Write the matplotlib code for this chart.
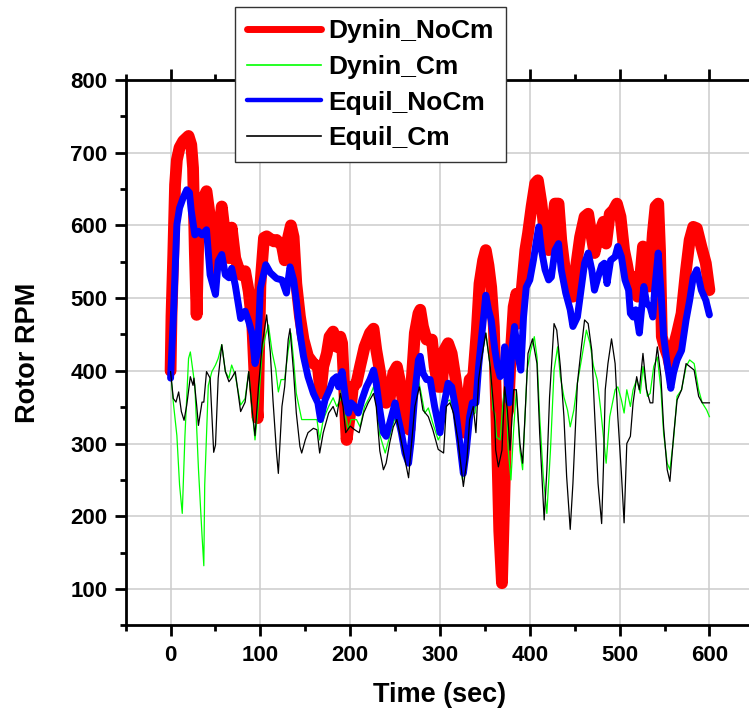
import numpy as np
import matplotlib
matplotlib.use("Agg")
import matplotlib.pyplot as plt
from matplotlib.ticker import MultipleLocator

plt.rcParams['font.family'] = ['Liberation Sans', 'DejaVu Sans']
plt.rcParams['font.weight'] = 'bold'

# Dynin_NoCm (red, thick)
t_dyn_nocm = [0, 1, 3, 5, 7, 10, 14, 20, 23, 25, 27, 29, 31, 35, 40, 44, 48, 51, 57, 61,
              65, 68, 72, 78, 83, 87, 91, 94, 97, 100, 104, 107, 115, 118, 124, 127, 131, 134, 137, 140,
              144, 148, 153, 159, 164, 167, 170, 174, 177, 181, 185, 189, 191, 194, 196, 200, 203, 207, 211, 216,
              222, 226, 229, 233, 237, 240, 244, 248, 252, 255, 259, 263, 266, 268, 272, 276, 278, 281, 285, 291,
              294, 298, 302, 305, 309, 313, 317, 320, 324, 327, 330, 333, 337, 341, 344, 348, 351, 354, 357, 360,
              363, 366, 369, 372, 374, 376, 379, 382, 385, 387, 391, 395, 398, 402, 406, 409, 413, 417, 421, 424,
              428, 432, 435, 439, 445, 448, 452, 456, 461, 465, 469, 472, 476, 482, 485, 489, 493, 497, 501, 505,
              508, 512, 516, 520, 523, 526, 529, 533, 537, 540, 543, 545, 547, 550, 554, 557, 560, 564, 569, 574,
              578, 582, 586, 591, 596, 600]
rpm_dyn_nocm = [400, 475, 560, 656, 690, 707, 716, 723, 711, 679, 564, 477, 587, 633, 647, 610, 537, 555, 626, 583,
                555, 597, 555, 532, 537, 509, 463, 380, 335, 518, 583, 585, 578, 580, 572, 552, 584, 600, 584, 520,
                475, 443, 420, 410, 406, 369, 406, 424, 447, 454, 433, 447, 438, 360, 305, 342, 378, 383, 406, 433,
                452, 458, 429, 400, 369, 356, 362, 397, 406, 388, 356, 323, 319, 378, 452, 479, 484, 461, 443, 443,
                406, 378, 378, 429, 438, 424, 392, 365, 342, 315, 351, 388, 392, 456, 520, 552, 566, 545, 515, 460,
                330, 180, 108, 245, 337, 346, 428, 488, 506, 465, 511, 566, 589, 626, 658, 662, 630, 584, 566, 589,
                630, 630, 580, 539, 502, 502, 548, 584, 612, 616, 584, 562, 584, 605, 575, 616, 621, 630, 612, 566,
                548, 520, 529, 502, 529, 571, 534, 516, 589, 626, 630, 566, 447, 433, 419, 401, 433, 452, 479, 539,
                580, 598, 596, 571, 548, 511]

# Dynin_Cm (green, thin)
t_dyn_cm = [0, 3, 7, 10, 13, 16, 20, 22, 25, 27, 31, 35, 37, 38, 42, 46, 50, 53, 57, 61,
            65, 68, 72, 78, 83, 87, 91, 94, 98, 102, 106, 109, 113, 117, 120, 123, 127, 131, 134, 137,
            140, 146, 153, 163, 166, 170, 176, 181, 185, 189, 191, 195, 198, 201, 207, 211, 216, 222, 226, 229,
            233, 239, 242, 248, 252, 255, 261, 265, 268, 272, 276, 279, 283, 287, 292, 298, 302, 305, 311, 315,
            320, 325, 329, 333, 339, 343, 346, 351, 356, 359, 361, 363, 367, 370, 373, 376, 379, 382, 385, 389,
            392, 395, 397, 401, 405, 408, 411, 415, 419, 423, 427, 431, 434, 438, 442, 445, 449, 453, 458, 463,
            467, 471, 475, 479, 485, 489, 495, 498, 502, 505, 508, 512, 515, 519, 523, 526, 531, 534, 538, 542,
            546, 549, 553, 556, 560, 564, 569, 574, 578, 583, 588, 592, 597, 600]
rpm_dyn_cm = [399, 357, 311, 243, 204, 311, 417, 426, 399, 380, 266, 174, 132, 243, 380, 399, 408, 417, 436, 399,
              390, 408, 394, 353, 362, 399, 344, 305, 357, 426, 450, 463, 426, 403, 371, 388, 388, 429, 452, 415,
              369, 333, 333, 333, 305, 333, 351, 363, 351, 360, 385, 337, 319, 333, 333, 323, 351, 365, 378, 360,
              312, 287, 301, 328, 342, 323, 296, 278, 315, 360, 388, 369, 342, 349, 328, 305, 315, 356, 360, 342,
              310, 250, 287, 337, 342, 397, 415, 452, 406, 346, 342, 309, 305, 356, 383, 291, 250, 319, 374, 291,
              264, 346, 401, 428, 447, 419, 337, 255, 204, 291, 401, 433, 392, 364, 346, 323, 346, 383, 419, 456,
              438, 406, 388, 346, 273, 337, 374, 378, 360, 342, 374, 351, 374, 388, 369, 406, 365, 369, 406, 419,
              374, 314, 273, 264, 305, 365, 374, 406, 415, 410, 374, 356, 346, 337]

# Equil_NoCm (blue, medium)
t_eq_nocm = [0, 3, 7, 10, 14, 18, 21, 23, 27, 31, 35, 40, 44, 50, 53, 57, 61, 65, 68, 72,
             78, 83, 87, 91, 94, 97, 100, 106, 111, 118, 124, 129, 133, 137, 140, 144, 148, 153, 159, 164,
             167, 172, 177, 181, 185, 187, 191, 195, 198, 201, 205, 209, 213, 218, 222, 226, 229, 233, 237, 240,
             244, 250, 253, 257, 261, 265, 268, 272, 276, 278, 281, 285, 289, 294, 300, 304, 309, 313, 317, 322,
             326, 329, 333, 336, 340, 343, 346, 349, 351, 354, 357, 361, 364, 367, 370, 372, 375, 377, 380, 383,
             387, 390, 393, 396, 400, 404, 408, 410, 413, 417, 421, 424, 428, 432, 435, 440, 445, 448, 453, 457,
             461, 465, 469, 472, 476, 480, 483, 486, 490, 495, 498, 502, 506, 510, 512, 515, 518, 522, 524, 527,
             530, 534, 537, 539, 543, 546, 549, 553, 557, 560, 564, 569, 574, 578, 582, 586, 591, 596, 600]
rpm_eq_nocm = [390, 472, 601, 624, 638, 649, 645, 620, 587, 592, 587, 594, 532, 505, 551, 560, 532, 528, 541, 518,
               472, 482, 468, 450, 410, 427, 514, 546, 535, 527, 525, 507, 543, 525, 497, 452, 420, 392, 369, 356,
               333, 360, 374, 388, 392, 378, 399, 360, 342, 356, 351, 342, 360, 378, 388, 401, 383, 346, 315, 310,
               328, 356, 337, 315, 287, 273, 305, 369, 415, 420, 397, 388, 388, 351, 315, 351, 383, 378, 351, 301,
               259, 287, 337, 356, 356, 406, 443, 479, 504, 484, 470, 430, 406, 392, 401, 433, 383, 356, 428, 461,
               419, 401, 474, 515, 525, 552, 584, 598, 566, 539, 525, 529, 566, 575, 539, 507, 484, 461, 474, 511,
               548, 562, 539, 511, 529, 545, 548, 520, 552, 557, 571, 557, 525, 511, 479, 474, 484, 452, 479, 516,
               493, 488, 474, 511, 562, 511, 447, 410, 376, 397, 415, 428, 470, 497, 529, 539, 511, 497, 477]

# Equil_Cm (black, thin)
t_eq_cm = [0, 3, 6, 9, 12, 15, 18, 22, 25, 26, 29, 31, 35, 37, 40, 44, 48, 50, 53, 57,
           61, 65, 68, 72, 78, 83, 87, 91, 94, 98, 102, 107, 111, 114, 118, 120, 124, 127, 131, 133,
           137, 140, 144, 146, 150, 153, 159, 163, 166, 170, 176, 181, 185, 189, 192, 195, 200, 205, 210, 215,
           220, 226, 229, 233, 237, 240, 244, 248, 252, 255, 261, 265, 268, 272, 277, 281, 287, 292, 298, 304,
           307, 311, 315, 320, 326, 330, 333, 337, 340, 343, 346, 351, 356, 359, 361, 362, 365, 369, 372, 375,
           378, 382, 385, 389, 392, 395, 398, 403, 408, 411, 416, 419, 422, 427, 430, 434, 438, 441, 445, 448,
           453, 457, 461, 465, 469, 472, 476, 480, 482, 484, 487, 491, 495, 498, 502, 505, 508, 512, 515, 519,
           522, 526, 530, 534, 537, 539, 542, 546, 549, 553, 556, 560, 564, 569, 574, 578, 583, 588, 592, 597,
           600]
rpm_eq_cm = [399, 362, 357, 371, 344, 332, 353, 392, 380, 390, 353, 325, 357, 357, 399, 390, 288, 298, 390, 436,
             399, 385, 390, 399, 344, 357, 399, 344, 311, 380, 436, 477, 426, 360, 287, 259, 351, 378, 443, 458,
             397, 342, 296, 287, 305, 315, 321, 319, 287, 315, 342, 351, 337, 369, 351, 315, 324, 319, 315, 342,
             356, 369, 351, 290, 264, 273, 301, 323, 333, 315, 278, 253, 296, 351, 378, 346, 337, 319, 292, 287,
             351, 356, 342, 305, 241, 278, 333, 351, 315, 388, 415, 452, 405, 360, 330, 291, 268, 291, 378, 346,
             291, 374, 374, 300, 273, 346, 424, 444, 410, 314, 195, 264, 364, 465, 456, 406, 337, 255, 182, 245,
             383, 428, 470, 465, 428, 346, 245, 190, 268, 374, 410, 444, 410, 337, 259, 191, 300, 310, 356, 392,
             374, 424, 374, 356, 356, 401, 433, 392, 323, 264, 248, 309, 360, 374, 410, 406, 401, 365, 356, 356,
             356]

fig = plt.figure(figsize=(7.49, 7.19), dpi=100)
ax = fig.add_axes([0.1678, 0.1302, 0.8393, 0.7586])

ax.plot(t_dyn_nocm, rpm_dyn_nocm, color='#ff0000', lw=8.5, solid_joinstyle='round',
        solid_capstyle='round', label='Dynin_NoCm')
ax.plot(t_dyn_cm, rpm_dyn_cm, color='#00ff00', lw=0.9, label='Dynin_Cm')
ax.plot(t_eq_nocm, rpm_eq_nocm, color='#0000ff', lw=5, solid_joinstyle='round',
        solid_capstyle='round', label='Equil_NoCm')
ax.plot(t_eq_cm, rpm_eq_cm, color='black', lw=0.9, label='Equil_Cm')

ax.set_xlim(-50, 650)
ax.set_ylim(50, 800)
ax.xaxis.set_major_locator(MultipleLocator(100))
ax.xaxis.set_minor_locator(MultipleLocator(50))
ax.yaxis.set_major_locator(MultipleLocator(100))
ax.yaxis.set_minor_locator(MultipleLocator(50))
ax.grid(True, which='major', color='#cccccc', lw=1.1)
ax.set_axisbelow(True)

for s in ['left', 'bottom', 'top']:
    ax.spines[s].set_linewidth(2)
ax.spines['right'].set_visible(False)

ax.tick_params(axis='x', which='major', direction='out', length=8, width=2,
               top=True, labelsize=16, pad=6)
ax.tick_params(axis='x', which='minor', direction='out', length=4.5, width=2, top=True)
ax.tick_params(axis='y', which='major', direction='out', length=8, width=2,
               right=False, labelsize=16, pad=5)
ax.tick_params(axis='y', which='minor', direction='out', length=4.5, width=2, right=False)
for lab in ax.get_xticklabels() + ax.get_yticklabels():
    lab.set_fontweight('bold')

ax.set_xlabel('Time (sec)', fontsize=19.5, fontweight='bold', labelpad=12)
ax.set_ylabel('Rotor RPM', fontsize=19.5, fontweight='bold', labelpad=21)

leg = ax.legend(loc='upper left', bbox_to_anchor=(235 / 749, 1 - 7 / 719),
                bbox_transform=fig.transFigure, borderaxespad=0,
                prop={'weight': 'bold', 'size': 19}, handlelength=2.8,
                handletextpad=0.3, labelspacing=0.45, borderpad=0.45,
                fancybox=False, framealpha=1, edgecolor='#333333')
leg.get_frame().set_linewidth(1)
# legend handles are drawn thinner than the plotted lines
for h, w in zip(leg.get_lines(), [5, 1.2, 3.2, 1.2]):
    h.set_linewidth(w)

fig.savefig('out.png', dpi=100)
